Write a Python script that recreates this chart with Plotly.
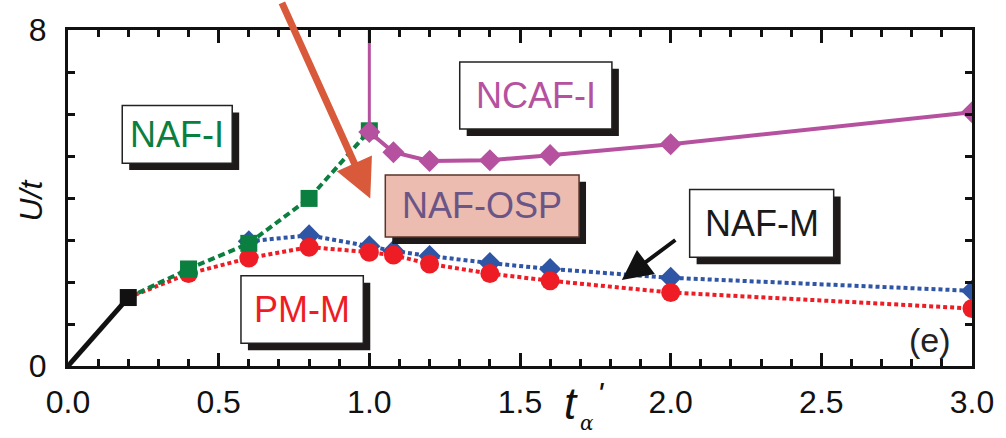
import plotly.graph_objects as go

# Phase boundaries, U/t versus t_alpha'
x_metal = [0.0, 0.2]                      # black segment from the origin
y_metal = [0.0, 1.63]

x_nafi = [0.2, 0.4, 0.6, 0.8, 1.0]        # NAF-I boundary (green squares)
y_nafi = [1.63, 2.31, 2.92, 3.99, 5.6]

x_pmm = [0.2, 0.4, 0.6, 0.8, 1.0, 1.08, 1.2, 1.4, 1.6, 2.0, 3.0]   # PM-M boundary (red circles)
y_pmm = [1.63, 2.2, 2.57, 2.83, 2.71, 2.64, 2.43, 2.2, 2.03, 1.75, 1.37]

x_nafm = [0.6, 0.8, 1.0, 1.08, 1.2, 1.4, 1.6, 2.0, 3.0]            # NAF-M boundary (blue diamonds)
y_nafm = [2.97, 3.11, 2.85, 2.74, 2.62, 2.45, 2.31, 2.1, 1.79]

x_ncaf = [1.0, 1.08, 1.2, 1.4, 1.6, 2.0, 3.0]                      # NCAF-I boundary (magenta diamonds)
y_ncaf = [5.57, 5.09, 4.88, 4.9, 5.02, 5.28, 6.04]
ncaf_vertical_top = 8.0

x_ticks = [0.0, 0.5, 1.0, 1.5, 2.0, 2.5, 3.0]
x_tick_text = ["0.0", "0.5", "1.0", "1.5", "2.0", "2.5", "3.0"]
y_ticks = [0, 8]
y_tick_text = ["0", "8"]

GREEN = "#0A7F3F"
RED = "#EE1D25"
BLUE = "#2F55A5"
MAGENTA = "#B6519F"
ORANGE = "#D85A3A"
FONT = "Liberation Sans, Arial, sans-serif"

fig = go.Figure()

fig.add_trace(go.Scatter(
    x=x_nafm, y=y_nafm, mode="lines+markers",
    line=dict(color=BLUE, width=4, dash="4px,3px"),
    marker=dict(symbol="diamond", size=17, color=BLUE),
))
fig.add_trace(go.Scatter(
    x=x_pmm, y=y_pmm, mode="lines",
    line=dict(color=RED, width=4, dash="4px,3px"),
))
fig.add_trace(go.Scatter(
    x=x_pmm[1:], y=y_pmm[1:], mode="markers",
    marker=dict(symbol="circle", size=19, color=RED),
))
fig.add_trace(go.Scatter(
    x=x_nafi, y=y_nafi, mode="lines",
    line=dict(color=GREEN, width=4, dash="7px,4px"),
))
fig.add_trace(go.Scatter(
    x=x_nafi[1:], y=y_nafi[1:], mode="markers",
    marker=dict(symbol="square", size=17, color=GREEN),
))
fig.add_trace(go.Scatter(
    x=[x_ncaf[0], x_ncaf[0]], y=[ncaf_vertical_top, y_ncaf[0]], mode="lines",
    line=dict(color=MAGENTA, width=3),
))
fig.add_trace(go.Scatter(
    x=x_ncaf, y=y_ncaf, mode="lines+markers",
    line=dict(color=MAGENTA, width=4),
    marker=dict(symbol="diamond", size=17, color=MAGENTA),
))
fig.add_trace(go.Scatter(
    x=x_metal, y=y_metal, mode="lines",
    line=dict(color="#111111", width=5),
))
fig.add_trace(go.Scatter(
    x=x_metal[1:], y=y_metal[1:], mode="markers",
    marker=dict(symbol="square", size=17, color="#111111"),
))

# Labelled phase boxes: (text, x0, x1, y0, y1, text colour, fill, border)
boxes = [
    ("NAF-I", 0.18, 0.545, 4.83, 6.20, GREEN, "white", "#222222"),
    ("NCAF-I", 1.30, 1.805, 5.64, 7.24, MAGENTA, "white", "#222222"),
    ("NAF-OSP", 1.053, 1.696, 3.07, 4.55, "#6A5586", "#ECBCB0", "#5A3428"),
    ("NAF-M", 2.063, 2.541, 2.59, 4.20, "#1A1A1A", "white", "#222222"),
    ("PM-M", 0.574, 0.98, 0.54, 2.15, RED, "white", "#222222"),
]
dx_shadow = 7 / 303.0
dy_shadow = 7 / 42.4
shapes = []
annotations = []
for text, x0, x1, y0, y1, tcol, fill, border in boxes:
    shapes.append(dict(type="rect", xref="x", yref="y", layer="above",
                       x0=x0 + dx_shadow, x1=x1 + dx_shadow, y0=y0 - dy_shadow, y1=y1 - dy_shadow,
                       fillcolor="#1E1A1A", line=dict(width=0)))
    shapes.append(dict(type="rect", xref="x", yref="y", layer="above",
                       x0=x0, x1=x1, y0=y0, y1=y1,
                       fillcolor=fill, line=dict(color=border, width=1.5)))
    annotations.append(dict(x=(x0 + x1) / 2, y=(y0 + y1) / 2, xref="x", yref="y",
                            text=text, showarrow=False,
                            font=dict(family=FONT, size=36, color=tcol)))

# Arrows pointing at the NAF-OSP region and the NAF-M boundary
annotations.append(dict(x=1.003, y=3.99, xref="x", yref="y", ax=-89, ay=-197,
                        axref="pixel", ayref="pixel", text="", showarrow=True,
                        arrowhead=2, arrowsize=1.1, arrowwidth=7, arrowcolor=ORANGE, standoff=0))
annotations.append(dict(x=1.838, y=2.05, xref="x", yref="y", ax=55, ay=-41,
                        text="", showarrow=True,
                        arrowhead=2, arrowsize=1.5, arrowwidth=4, arrowcolor="#111111", standoff=0))

annotations.append(dict(x=2.86, y=0.61, xref="x", yref="y", text="(e)", showarrow=False,
                        font=dict(family=FONT, size=34, color="#222222")))

# Axis titles
annotations.append(dict(x=-37 / 909, y=0.493, xref="paper", yref="paper", text="<i>U/t</i>",
                        xanchor="center", yanchor="middle",
                        textangle=-90, showarrow=False,
                        font=dict(family=FONT, size=32, color="#111111")))
annotations.append(dict(x=(574 - 68) / 909, y=(366 - 404) / 339, xref="paper", yref="paper",
                        text="<i>t</i>", showarrow=False, xanchor="center", yanchor="middle",
                        font=dict(family=FONT, size=44, color="#111111")))
annotations.append(dict(x=(604 - 68) / 909, y=(366 - 394) / 339, xref="paper", yref="paper",
                        text="<i>'</i>", showarrow=False, xanchor="center", yanchor="middle",
                        font=dict(family=FONT, size=32, color="#111111")))
annotations.append(dict(x=(590 - 68) / 909, y=(366 - 424) / 339, xref="paper", yref="paper",
                        text="<i>α</i>", showarrow=False, xanchor="center", yanchor="middle",
                        font=dict(family="DejaVu Serif, serif", size=20, color="#111111")))

axis_common = dict(
    showline=True, linewidth=3, linecolor="#111111", mirror="allticks",
    showgrid=False, zeroline=False, ticks="inside", tickwidth=2.5, tickcolor="#111111",
    tickfont=dict(family=FONT, size=32, color="#111111"),
)

fig.update_layout(
    width=1006, height=438,
    margin=dict(l=68, r=29, t=27, b=72),
    paper_bgcolor="white", plot_bgcolor="white",
    showlegend=False,
    shapes=shapes, annotations=annotations,
    xaxis=dict(range=[0, 3], tickvals=x_ticks, ticktext=x_tick_text, ticklen=13,
               ticklabelstandoff=6,
               minor=dict(dtick=0.1, ticks="inside", ticklen=7, tickwidth=2.5, tickcolor="#111111"),
               **axis_common),
    yaxis=dict(range=[0, 8], tickvals=y_ticks, ticktext=y_tick_text, ticklen=7,
               ticklabelstandoff=12,
               minor=dict(dtick=1, ticks="inside", ticklen=7, tickwidth=2.5, tickcolor="#111111"),
               **axis_common),
)

fig.write_html("out.html")
